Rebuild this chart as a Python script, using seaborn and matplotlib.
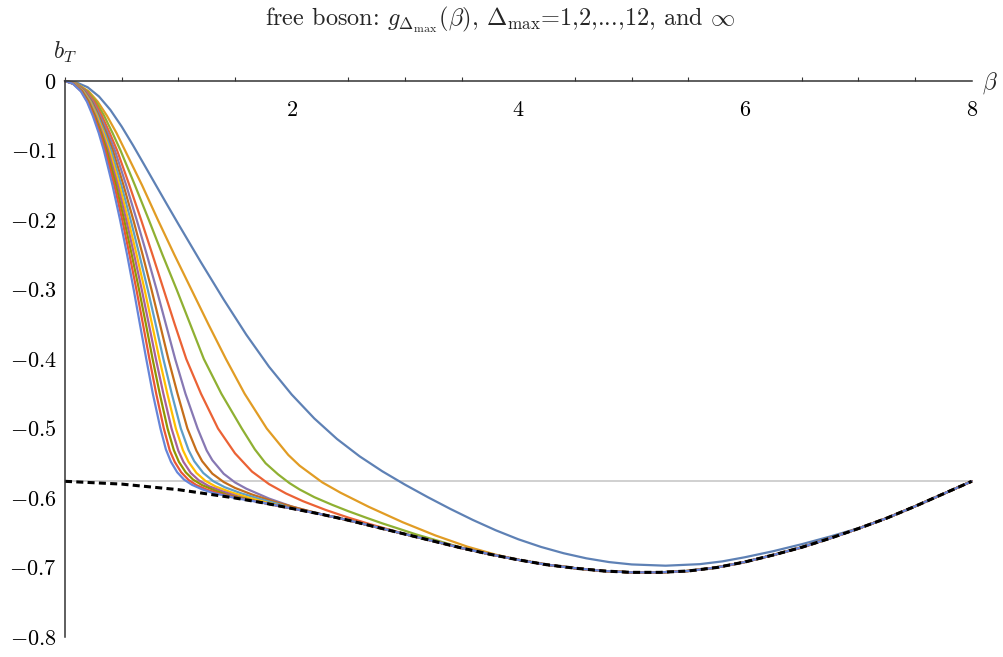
import numpy as np
import pandas as pd
import seaborn as sns
import matplotlib.pyplot as plt
from matplotlib.ticker import MultipleLocator

# g_inf(beta): the Delta_max -> infinity curve (dashed)
beta_inf = [0, 0.25, 0.5, 0.75, 1.0, 1.25, 1.5, 1.75, 2.0, 2.25, 2.5, 2.75, 3.0, 3.25, 3.5, 3.75,
            4.0, 4.25, 4.5, 4.75, 5.0, 5.25, 5.5, 5.75, 6.0, 6.25, 6.5, 6.75, 7.0, 7.25, 7.5, 7.75, 8.0]
bt_inf = [-0.576, -0.578, -0.580, -0.584, -0.588, -0.594, -0.600, -0.607, -0.615, -0.623, -0.632, -0.642,
          -0.652, -0.662, -0.672, -0.681, -0.689, -0.696, -0.701, -0.705, -0.707, -0.707, -0.705, -0.700,
          -0.692, -0.682, -0.671, -0.658, -0.644, -0.629, -0.612, -0.594, -0.576]

# reference level (grey line)
bt_ref = -0.576

# Delta_max = 1
beta_d1 = [0, 0.1, 0.2, 0.3, 0.4, 0.5, 0.6, 0.7, 0.8, 0.9, 1.0, 1.2, 1.4, 1.6, 1.8, 2.0, 2.2, 2.4, 2.6,
           2.8, 3.0, 3.2, 3.4, 3.6, 3.8, 4.0, 4.2, 4.4, 4.6, 4.8, 5.0, 5.3, 5.6, 5.8, 6.0, 6.25, 6.5, 6.75, 7.0]
bt_d1 = [0, -0.002, -0.009, -0.0223, -0.0415, -0.0655, -0.0925, -0.1208, -0.1493, -0.1777, -0.2058, -0.261,
         -0.3144, -0.3651, -0.4111, -0.4511, -0.4856, -0.5151, -0.5401, -0.5616, -0.5808, -0.5987, -0.6157,
         -0.6317, -0.6464, -0.6594, -0.6704, -0.6795, -0.6868, -0.6922, -0.6956, -0.6974, -0.6952, -0.6912,
         -0.6852, -0.6765, -0.6665, -0.6555, -0.6435]

# Delta_max = 2..12: beta where each curve reaches these levels on the way down
bt_levels = [0, -0.004, -0.015, -0.03, -0.05, -0.075, -0.1, -0.15, -0.2, -0.25, -0.3, -0.35, -0.4, -0.45, -0.5]
beta_d2 = [0, 0.105, 0.21, 0.29, 0.37, 0.455, 0.53, 0.68, 0.82, 0.965, 1.115, 1.265, 1.42, 1.585, 1.78]
beta_d3 = [0, 0.1, 0.2, 0.274, 0.345, 0.42, 0.49, 0.617, 0.74, 0.86, 0.985, 1.105, 1.225, 1.38, 1.56]
beta_d4 = [0, 0.094, 0.19, 0.26, 0.325, 0.395, 0.46, 0.568, 0.672, 0.772, 0.87, 0.968, 1.07, 1.2, 1.35]
beta_d5 = [0, 0.09, 0.18, 0.247, 0.31, 0.378, 0.44, 0.54, 0.633, 0.722, 0.808, 0.89, 0.972, 1.063, 1.17]
beta_d6 = [0, 0.086, 0.172, 0.237, 0.298, 0.364, 0.422, 0.516, 0.603, 0.685, 0.763, 0.838, 0.912, 0.993, 1.08]
beta_d7 = [0, 0.083, 0.166, 0.229, 0.288, 0.351, 0.407, 0.497, 0.579, 0.656, 0.73, 0.8, 0.868, 0.942, 1.022]
beta_d8 = [0, 0.08, 0.16, 0.221, 0.279, 0.339, 0.393, 0.48, 0.558, 0.632, 0.702, 0.768, 0.833, 0.903, 0.978]
beta_d9 = [0, 0.077, 0.155, 0.214, 0.27, 0.328, 0.38, 0.465, 0.54, 0.61, 0.677, 0.74, 0.802, 0.868, 0.94]
beta_d10 = [0, 0.075, 0.15, 0.207, 0.262, 0.318, 0.368, 0.45, 0.522, 0.589, 0.653, 0.714, 0.773, 0.836, 0.905]
beta_d11 = [0, 0.072, 0.145, 0.2, 0.254, 0.308, 0.356, 0.435, 0.505, 0.569, 0.63, 0.688, 0.745, 0.805, 0.872]
beta_d12 = [0, 0.07, 0.14, 0.194, 0.245, 0.298, 0.343, 0.419, 0.486, 0.548, 0.606, 0.661, 0.717, 0.775, 0.842]

# below -0.5: the bend onto g_inf
knee_beta_d2 = [1.97, 2.07, 2.27, 2.43, 2.68, 2.98, 3.27, 3.55, 3.8]
knee_bt_d2 = [-0.538, -0.5535, -0.5775, -0.5923, -0.6127, -0.6349, -0.654, -0.670, -0.6815]
knee_beta_d3 = [1.675, 1.77, 1.88, 1.98, 2.07, 2.2, 2.36, 2.5, 2.66, 2.8, 2.96, 3.1, 3.3, 3.5]
knee_bt_d3 = [-0.53, -0.55, -0.566, -0.5785, -0.5877, -0.5988, -0.61, -0.619, -0.6285, -0.6365, -0.645,
              -0.6525, -0.662, -0.6715]
knee_beta_d4 = [1.5, 1.65, 1.8, 1.95, 2.1, 2.3, 2.5, 2.7, 2.9]
knee_bt_d4 = [-0.5357, -0.562, -0.58, -0.5935, -0.6046, -0.6172, -0.6282, -0.6381, -0.6472]
knee_beta_d5 = [1.25, 1.3, 1.4, 1.5, 1.6, 1.8, 2.0, 2.2]
knee_bt_d5 = [-0.5316, -0.5456, -0.5651, -0.5776, -0.5866, -0.6008, -0.6122, -0.621]
knee_beta_d6 = [1.16, 1.21, 1.3, 1.4, 1.5, 1.65, 1.85, 2.05]
knee_bt_d6 = [-0.532, -0.547, -0.565, -0.577, -0.5855, -0.595, -0.6055, -0.6145]
knee_beta_d7 = [1.09, 1.14, 1.22, 1.31, 1.41, 1.55, 1.72, 1.9]
knee_bt_d7 = [-0.531, -0.547, -0.564, -0.576, -0.5845, -0.593, -0.6015, -0.6095]
knee_beta_d8 = [1.04, 1.09, 1.16, 1.24, 1.33, 1.46, 1.62, 1.78]
knee_bt_d8 = [-0.531, -0.548, -0.564, -0.5755, -0.5835, -0.5915, -0.5995, -0.6065]
knee_beta_d9 = [1.0, 1.045, 1.11, 1.18, 1.27, 1.39, 1.53, 1.68]
knee_bt_d9 = [-0.532, -0.548, -0.564, -0.5745, -0.583, -0.5905, -0.598, -0.6045]
knee_beta_d10 = [0.96, 1.005, 1.065, 1.13, 1.21, 1.32, 1.45, 1.6]
knee_bt_d10 = [-0.531, -0.548, -0.563, -0.5735, -0.5815, -0.589, -0.5965, -0.6012]
knee_beta_d11 = [0.925, 0.968, 1.025, 1.09, 1.16, 1.26, 1.38, 1.5]
knee_bt_d11 = [-0.532, -0.548, -0.563, -0.574, -0.5815, -0.5885, -0.5945, -0.599]
knee_beta_d12 = [0.89, 0.935, 0.99, 1.05, 1.12, 1.21, 1.31, 1.42]
knee_bt_d12 = [-0.53, -0.548, -0.563, -0.5735, -0.581, -0.5875, -0.593, -0.5968]

curves = [(beta_d1, bt_d1),
          (beta_d2 + knee_beta_d2, bt_levels + knee_bt_d2),
          (beta_d3 + knee_beta_d3, bt_levels + knee_bt_d3),
          (beta_d4 + knee_beta_d4, bt_levels + knee_bt_d4),
          (beta_d5 + knee_beta_d5, bt_levels + knee_bt_d5),
          (beta_d6 + knee_beta_d6, bt_levels + knee_bt_d6),
          (beta_d7 + knee_beta_d7, bt_levels + knee_bt_d7),
          (beta_d8 + knee_beta_d8, bt_levels + knee_bt_d8),
          (beta_d9 + knee_beta_d9, bt_levels + knee_bt_d9),
          (beta_d10 + knee_beta_d10, bt_levels + knee_bt_d10),
          (beta_d11 + knee_beta_d11, bt_levels + knee_bt_d11),
          (beta_d12 + knee_beta_d12, bt_levels + knee_bt_d12)]

# Mathematica default palette (ColorData 97)
colors = ['#5E81B5', '#E19C24', '#8FB032', '#EB6235', '#8778B3', '#C56E1A',
          '#5D9EC7', '#FFBF00', '#A5609D', '#929600', '#E95536', '#6685D9']

xtick_major = [2, 4, 6, 8]
ytick_vals = [0, -0.1, -0.2, -0.3, -0.4, -0.5, -0.6, -0.7, -0.8]
ytick_labels = ['$0$', '$-0.1$', '$-0.2$', '$-0.3$', '$-0.4$', '$-0.5$', '$-0.6$', '$-0.7$', '$-0.8$']

# one long frame; once a curve has joined, it runs along g_inf
rows = []
for i, (bx, by) in enumerate(curves):
    name = f'D{i + 1}'
    for x, y in zip(bx, by):
        rows.append((name, x, y))
    for x, y in zip(beta_inf, bt_inf):
        if x > bx[-1]:
            rows.append((name, x, y))
df = pd.DataFrame(rows, columns=['curve', 'beta', 'bT'])
df_inf = pd.DataFrame({'beta': beta_inf, 'bT': bt_inf})
df_ref = pd.DataFrame({'beta': [0, 8], 'bT': [bt_ref, bt_ref]})

sns.set_theme(style='white')
plt.rcParams['font.family'] = ['cmr10', 'DejaVu Serif']
plt.rcParams['mathtext.fontset'] = 'cm'
plt.rcParams['axes.formatter.use_mathtext'] = True

fig = plt.figure(figsize=(10.04, 6.57), dpi=100)
ax = fig.add_axes([65 / 1004, 20 / 657, 906.7 / 1004, 556 / 657])

sns.lineplot(data=df_ref, x='beta', y='bT', color='#C8C8C8', lw=1.2, ax=ax, clip_on=False)
sns.lineplot(data=df, x='beta', y='bT', hue='curve', palette=colors, hue_order=[f'D{i}' for i in range(1, 13)],
             sort=False, estimator=None, lw=1.6, legend=False, ax=ax, clip_on=False)
sns.lineplot(data=df_inf, x='beta', y='bT', color='black', lw=2.2, ax=ax, clip_on=False)
ax.lines[-1].set_dashes((2.3, 1.4))

ax.set_xlim(0, 8)
ax.set_ylim(-0.8, 0)
ax.spines['top'].set_visible(False)
ax.spines['right'].set_visible(False)
ax.spines['bottom'].set_position(('data', 0))
for s in ['bottom', 'left']:
    ax.spines[s].set_color('#333333')
    ax.spines[s].set_linewidth(1.1)

ax.set_xticks(xtick_major)
ax.set_xticklabels([f'${v}$' for v in xtick_major])
ax.xaxis.set_minor_locator(MultipleLocator(0.5))
ax.set_yticks(ytick_vals)
ax.set_yticklabels(ytick_labels)
ax.tick_params(axis='both', which='major', direction='in', length=5.5, width=0.9, color='#333333',
               labelsize=16, labelcolor='black')
ax.tick_params(axis='x', which='major', pad=14)
ax.tick_params(axis='y', which='major', pad=6)
ax.tick_params(axis='x', which='minor', direction='in', length=3, width=0.8, color='#333333', bottom=True)
ax.set_xlabel('')
ax.set_ylabel('')

fig.text(65 / 1004, 1 - 52 / 657, '$b_T$', ha='center', va='center', fontsize=17)
fig.text(990 / 1004, 1 - 83 / 657, r'$\beta$', ha='center', va='center', fontsize=17)
fig.text(500 / 1004, 1 - 20 / 657,
         r'free boson: $g_{\Delta_{\mathrm{max}}}(\beta)$, $\Delta_{\mathrm{max}}$=1,2,...,12, and $\infty$',
         ha='center', va='center', fontsize=17.5)

fig.savefig('out.png', dpi=100)
